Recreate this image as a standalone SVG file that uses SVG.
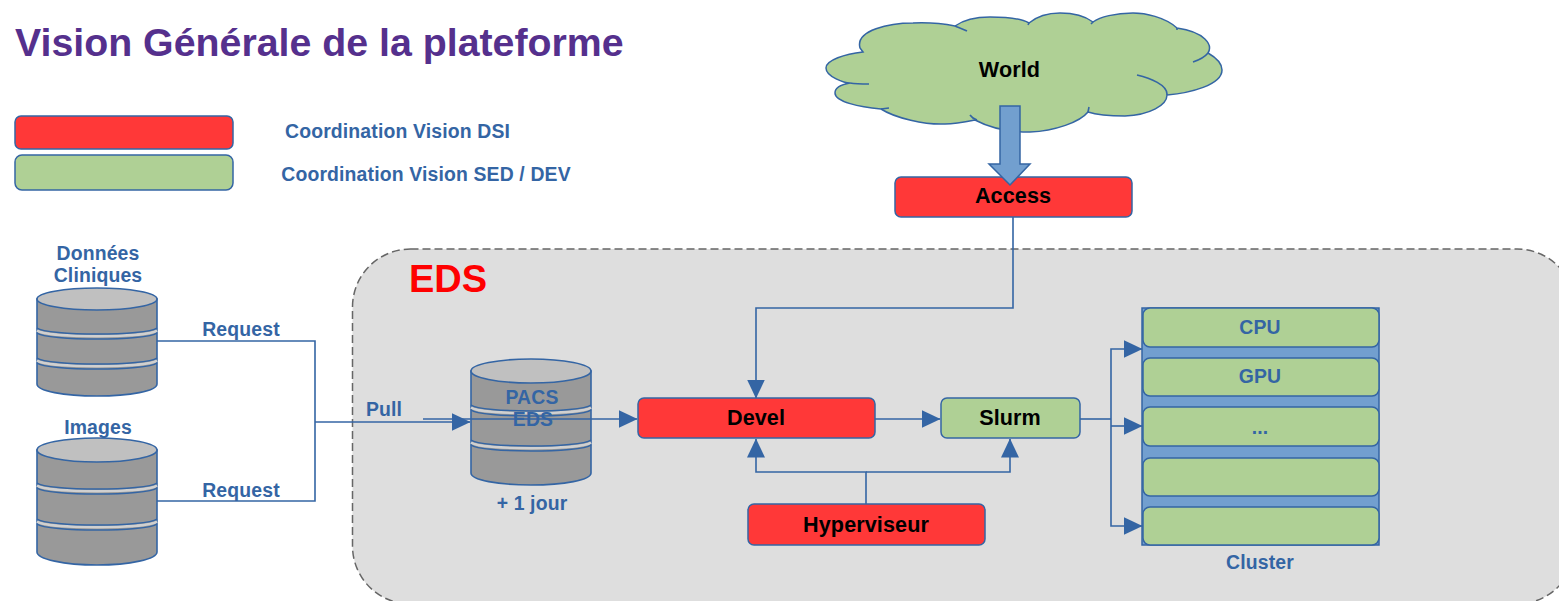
<svg xmlns="http://www.w3.org/2000/svg" width="1559" height="601" viewBox="0 0 1559 601">
<style>
text{font-family:"Liberation Sans",Arial,sans-serif;font-weight:bold;text-anchor:middle}
.l{fill:#3465a4;font-size:19.4px;letter-spacing:.15px}
.k{fill:#000;font-size:21.6px;letter-spacing:.1px}
.r{fill:#ff3838;stroke:#3465a4;stroke-width:1.5}
.g{fill:#afd095;stroke:#3465a4;stroke-width:1.5}
.c{fill:none;stroke:#3465a4;stroke-width:1.6}
.body{fill:#999;stroke:#3465a4;stroke-width:1.6}
.top{fill:#c0c0c0;stroke:#3465a4;stroke-width:1.6}
.bl{fill:none;stroke:#3465a4;stroke-width:1.5}
.bw{fill:none;stroke:#d0d0d0;stroke-width:2.5}
</style>
<defs>
<marker id="a" markerUnits="userSpaceOnUse" markerWidth="19" markerHeight="18" refX="18.5" refY="9" orient="auto"><path d="M0,0L19,9L0,18Z" fill="#3465a4"/></marker>
<g id="band">
<path class="bw" d="M0,2.5C10,10 110,10 120,2.5"/>
<path class="bl" d="M0,0C10,8 110,8 120,0M0,5C10,13 110,13 120,5"/>
</g>
</defs>
<rect id="panel" x="352.5" y="249" width="1222.5" height="355" rx="58" fill="#dedede" stroke="#666" stroke-width="1.5" stroke-dasharray="8 4"/>
<text id="title" x="15" y="56" font-size="39.3" fill="#55308d" style="text-anchor:start">Vision Générale de la plateforme</text>
<g id="legend-red"><rect class="r" x="15" y="116" width="218" height="33" rx="6"/><text class="l" x="397.500" y="138">Coordination Vision DSI</text></g>
<g id="legend-green"><rect class="g" x="15" y="155" width="218" height="35" rx="7"/><text class="l" x="426" y="181">Coordination Vision SED / DEV</text></g>
<g id="world">
<path class="g" d="M863,52C845,54 826,60 826,68C826,77 845,83 850,83C838,85 835,89 835,93C835,102 860,107 881,109C895,118 925,125 945,124C955,124 965,122 975,120C990,128 1010,132 1030,132C1055,131 1080,122 1088,112C1100,116 1115,116 1125,116C1150,115 1167,105 1167,95C1190,93 1222,85 1222,70C1222,62 1215,57 1208,53C1213,45 1205,32 1177,28C1165,17 1145,13 1133,13C1115,13 1100,17 1093,22C1085,16 1075,13 1060,13C1045,13 1035,18 1029,23C1020,18 1005,17 990,17C975,17 962,21 955,26C935,22 913,23 913,23C890,23 855,30 860,48Z"/>
<path class="c" d="M850,83C856,84 862,84 869,84M881,109L889,108M970,115C972,118 974,119 977,120M1088,112L1089,107M1167,95C1168,85 1150,78 1137,75M1208,53C1204,58 1199,60 1193,62M955,26C960,28 963,29 967,31M1177,28L1177,30M1093,22L1091,24M1029,23L1028,25"/>
<text class="k" x="1009.500" y="77">World</text>
</g>
<g id="access"><rect class="r" x="895" y="177" width="237" height="40" rx="6"/><text class="k" x="1013" y="203">Access</text></g>
<path id="bigarrow" d="M1000,106H1020V164H1030L1010,185L989,164H1000Z" fill="#729fcf" stroke="#3465a4" stroke-width="1.5"/>
<g id="donnees"><text class="l" x="98" y="260">Données</text><text class="l" x="98" y="282">Cliniques</text><path class="body" d="M37,299V384C37,391 64,396 97,396C130,396 157,391 157,384V299Z"/><ellipse class="top" cx="97" cy="299" rx="60" ry="11"/><use href="#band" x="37" y="328"/><use href="#band" x="37" y="358"/></g>
<g id="images"><text class="l" x="98" y="434">Images</text><path class="body" d="M37,450V552C37,559 64,565 97,565C130,565 157,559 157,552V450Z"/><ellipse class="top" cx="97" cy="450" rx="60" ry="12"/><use href="#band" x="37" y="483"/><use href="#band" x="37" y="519"/></g>
<g id="pacs"><path class="body" d="M471,371V473C471,480 498,485 531,485C564,485 591,480 591,473V371Z"/><ellipse class="top" cx="531" cy="371" rx="60" ry="12"/><use href="#band" x="471" y="405"/><use href="#band" x="471" y="440"/><text class="l" x="532" y="404">PACS</text><text class="l" x="533" y="426">EDS</text><text class="l" x="532" y="510">+ 1 jour</text></g>
<g id="connectors">
<path class="c" d="M157,341H315V501H157"/>
<path class="c" d="M315,422H470" marker-end="url(#a)"/>
<path class="c" d="M423,419H637" marker-end="url(#a)"/>
<path class="c" d="M1013,217V308H756V398" marker-end="url(#a)"/>
<path class="c" d="M875,419H940" marker-end="url(#a)"/>
<path class="c" d="M866,504V472H756V439" marker-end="url(#a)"/>
<path class="c" d="M866,472H1010V439" marker-end="url(#a)"/>
<path class="c" d="M1080,419H1111"/>
<path class="c" d="M1111,426V349H1142" marker-end="url(#a)"/>
<path class="c" d="M1111,426H1142" marker-end="url(#a)"/>
<path class="c" d="M1111,426V526H1142" marker-end="url(#a)"/>
</g>
<text class="l" x="241" y="336">Request</text>
<text class="l" x="241" y="497">Request</text>
<text class="l" x="384" y="416">Pull</text>
<text id="eds" x="448" y="292" font-size="38" fill="#ff0000">EDS</text>
<g id="devel"><rect class="r" x="638" y="398" width="237" height="40" rx="6"/><text class="k" x="756" y="425">Devel</text></g>
<g id="slurm"><rect class="g" x="941" y="398" width="139" height="40" rx="6"/><text class="k" x="1010" y="425">Slurm</text></g>
<g id="hyperviseur"><rect class="r" x="748" y="504" width="237" height="41" rx="6"/><text class="k" x="866" y="532">Hyperviseur</text></g>
<g id="cluster">
<rect x="1142" y="308" width="237" height="237" fill="#729fcf" stroke="#3465a4" stroke-width="1.5"/>
<rect class="g" x="1143" y="308" width="236" height="39" rx="7"/>
<rect class="g" x="1143" y="358" width="236" height="38" rx="7"/>
<rect class="g" x="1143" y="407" width="236" height="39" rx="7"/>
<rect class="g" x="1143" y="458" width="236" height="38" rx="7"/>
<rect class="g" x="1143" y="507" width="236" height="38" rx="7"/>
<text class="l" x="1260" y="334">CPU</text>
<text class="l" x="1260" y="383">GPU</text>
<text class="l" x="1260" y="434">...</text>
<text class="l" x="1260" y="569">Cluster</text>
</g>
</svg>
